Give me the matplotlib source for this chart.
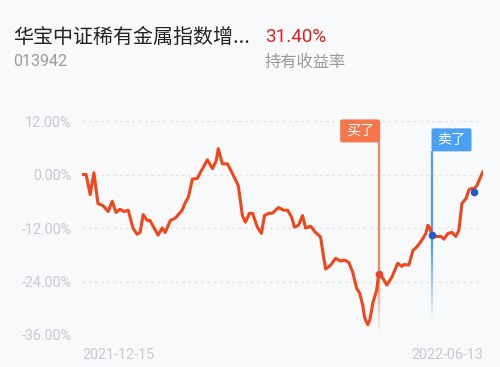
import numpy as np
import matplotlib.pyplot as plt
from matplotlib import transforms
from matplotlib.collections import LineCollection
from matplotlib.colors import to_rgba
from matplotlib.patches import FancyBboxPatch

plt.rcParams['font.family'] = ['Roboto', 'Noto Sans CJK SC', 'DejaVu Sans']

title = '华宝中证稀有金属指数增...'
code = '013942'
ret_text = '31.40%'
ret_label = '持有收益率'

# trading-day index and holding return (%)
days = [0, 1.2, 2.4, 3.5, 4.7, 6.2, 7.7, 8.9, 10, 11.2, 12.4, 13.6, 15, 16.2, 17.1, 18,
        19.2, 20, 22.4, 23.6, 24.5, 26, 27.4, 29.5, 30.4, 31.3, 32.5, 33.9, 34.8, 36.9,
        38.4, 39.5, 40.1, 41.3, 42.8, 44.3, 46, 47.2, 48.1, 49.3, 50.2, 51.6, 52.8, 53.7,
        54.9, 56, 57.8, 59.3, 60.5, 61.7, 62.5, 63.7, 64.9, 65.8, 67.3, 68.7, 70.2, 71.1,
        71.7, 73.2, 74.6, 76.1, 77.3, 78.5, 79.7, 80.8, 81.7, 82.6, 83.2, 84.1, 84.7, 85.6,
        86.1, 86.7, 87.3, 88.5, 89.7, 91.2, 92.9, 94.1, 94.7, 96.2, 97.4, 98.2, 99.4,
        100.6, 101.2, 101.8, 102.4, 103, 104.1, 105.6, 106.5, 107.7, 108.9, 110, 110.9,
        111.8, 113, 113.9, 114.7, 115.3, 116.2, 118]
values = [0, 0, -4.5, 0.4, -6.5, -7, -8.3, -6, -8.5, -7.8, -8.3, -8, -12, -13.4, -13, -9,
          -10.3, -10.3, -13.6, -12, -13, -10.3, -9.8, -8, -6.3, -5.1, -1, -0.9, 0.4, 3.3,
          1.3, 3.1, 5.8, 2.4, 2.4, 0.2, -2.5, -9.2, -10.7, -8.7, -8.7, -11.8, -13.2, -9.2,
          -8.7, -8.7, -7.4, -8.0, -8.0, -9.6, -11.8, -11.4, -9.2, -12, -11.6, -13, -14,
          -18.5, -21.2, -20.3, -18.8, -19.4, -19.2, -19.7, -22, -25.5, -26.6, -29.3, -32.2,
          -33.7, -32.6, -28.8, -27.5, -26, -22.3, -23.2, -24.8, -23, -19.9, -20.6, -20.2,
          -20.3, -17, -16.5, -15.4, -14, -13.2, -11.4, -12, -13.6, -13.9, -13.9, -14.5,
          -13.2, -13, -13.9, -12.5, -6.5, -5.4, -3.4, -3.1, -3.3, -2.5, 0.7]

yticks = [12, 0, -12, -24, -36]
xlabels = ['2021-12-15', '2022-06-13']

buy_day, buy_val = 87.3, -22.3
sell_days = [103, 115.3]
sell_vals = [-13.6, -4.0]

bg = '#f8f9fb'
fig = plt.figure(figsize=(5, 3.67), dpi=100, facecolor=bg)
ax = fig.add_axes([0.164, 0.0872, 0.802, 0.583])
ax.set_facecolor(bg)
ax.set_xlim(days[0], days[-1])
ax.set_ylim(-36, 12)

for v in yticks:
    ax.axhline(v, color='#dfe1e5', lw=0.9, ls=(0, (2, 3)), zorder=0)

ax.set_yticks(yticks)
ax.set_yticklabels([f'{v:.2f}%' for v in yticks])
ax.tick_params(axis='y', length=0, pad=7.5, labelsize=10.3, labelcolor='#c6c9ce')
ax.set_xticks([])
for s in ax.spines.values():
    s.set_visible(False)

ax.text(0, -0.06, xlabels[0], transform=ax.transAxes, ha='left', va='top',
        fontsize=10.3, color='#c6c9ce')
ax.text(1, -0.06, xlabels[1], transform=ax.transAxes, ha='right', va='top',
        fontsize=10.3, color='#c6c9ce')


def fade_line(x, y_top, y_solid, y_end, color, lw):
    ys = np.linspace(y_top, y_end, 80)
    segs = [[(x, ys[i]), (x, ys[i + 1])] for i in range(len(ys) - 1)]
    r, g, b, _ = to_rgba(color)
    cols = []
    for i in range(len(ys) - 1):
        yy = ys[i]
        if yy >= y_solid:
            a = 1.0
        else:
            a = max(0.0, (yy - y_end) / (y_solid - y_end))
        cols.append((r, g, b, a))
    lc = LineCollection(segs, colors=cols, linewidths=lw, zorder=2)
    lc.set_clip_on(False)
    ax.add_collection(lc)


buy_col = '#f5764a'
sell_col = '#4aa0f2'
fade_line(buy_day, 7.2, -21, -35.5, '#f58462', 1.6)
fade_line(sell_days[0], 5.2, -16, -32.5, sell_col, 1.6)

ax.plot(days, values, color='#f0471a', lw=2.2, solid_joinstyle='round',
        solid_capstyle='round', zorder=3)
ax.plot(buy_day, buy_val, 'o', ms=4.5, color='#e8402a', zorder=4)
ax.plot(sell_days, sell_vals, 'o', ms=4.5, color='#1f5ccc', zorder=4)


# flag boxes, sized in pixels
def flag(x, y_bottom, text, color, side):
    px, py = ax.transData.transform((x, y_bottom))
    w, h = 40, 23
    x0 = px - w + 1.5 if side == 'left' else px - 0.5
    box = FancyBboxPatch((x0, py), w, h, boxstyle='round,pad=0,rounding_size=2',
                         fc=color, ec='none', transform=transforms.IdentityTransform(),
                         zorder=5)
    fig.patches.append(box)
    fig.text((x0 + w / 2) / fig.bbox.width, (py + h / 2) / fig.bbox.height, text,
             ha='center', va='center', color='white', fontsize=10.2,
             family=['Noto Sans CJK SC'], zorder=6)


flag(buy_day, 7.2, '买了', buy_col, 'left')
flag(sell_days[0], 5.2, '卖了', sell_col, 'right')

# header
fig.text(13 / 500, 1 - 37 / 367, title, ha='left', va='center', fontsize=14.4,
         color='#222222', family=['Noto Sans CJK SC'])
fig.text(265 / 500, 1 - 37 / 367, ret_text, ha='left', va='center', fontsize=13.6,
         color='#e0201e')
fig.text(13 / 500, 1 - 62 / 367, code, ha='left', va='center', fontsize=11.6,
         color='#9a9a9a')
fig.text(265 / 500, 1 - 62.5 / 367, ret_label, ha='left', va='center', fontsize=11.7,
         color='#9a9a9a', family=['Noto Sans CJK SC'])

fig.savefig('out.png', dpi=100, facecolor=bg)
